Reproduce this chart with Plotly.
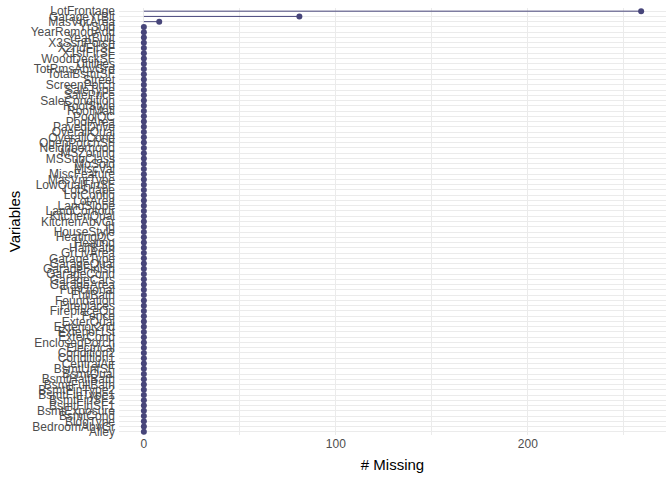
import plotly.graph_objects as go

# Variables ordered bottom -> top (ascending missing count, ties alphabetical)
variables = [
    "Alley", "BedroomAbvGr", "BldgType", "BsmtCond", "BsmtExposure", "BsmtFinSF1",
    "BsmtFinSF2", "BsmtFinType1", "BsmtFinType2", "BsmtFullBath", "BsmtHalfBath",
    "BsmtQual", "BsmtUnfSF", "CentralAir", "Condition1", "Condition2", "Electrical",
    "EnclosedPorch", "ExterCond", "Exterior1st", "Exterior2nd", "ExterQual", "Fence",
    "FireplaceQu", "Fireplaces", "Foundation", "FullBath", "Functional", "GarageArea",
    "GarageCars", "GarageCond", "GarageFinish", "GarageQual", "GarageType", "GrLivArea",
    "HalfBath", "Heating", "HeatingQC", "HouseStyle", "Id", "KitchenAbvGr", "KitchenQual",
    "LandContour", "LandSlope", "LotArea", "LotConfig", "LotShape", "LowQualFinSF",
    "MasVnrType", "MiscFeature", "MiscVal", "MoSold", "MSSubClass", "MSZoning",
    "Neighborhood", "OpenPorchSF", "OverallCond", "OverallQual", "PavedDrive", "PoolArea",
    "PoolQC", "RoofMatl", "RoofStyle", "SaleCondition", "SalePrice", "SaleType",
    "ScreenPorch", "Street", "TotalBsmtSF", "TotRmsAbvGrd", "Utilities", "WoodDeckSF",
    "X1stFlrSF", "X2ndFlrSF", "X3SsnPorch", "YearBuilt", "YearRemodAdd", "YrSold",
    "MasVnrArea", "GarageYrBlt", "LotFrontage",
]
missing = [0] * 78 + [8, 81, 259]

x_ticks = [0, 100, 200]

color = "#47457A"

seg_x, seg_y = [], []
for v, m in zip(variables, missing):
    seg_x += [0, m, None]
    seg_y += [v, v, None]

fig = go.Figure()
fig.add_trace(go.Scatter(x=seg_x, y=seg_y, mode="lines",
                         line=dict(color=color, width=1), hoverinfo="skip",
                         showlegend=False))
fig.add_trace(go.Scatter(x=missing, y=variables, mode="markers",
                         marker=dict(color=color, size=6), showlegend=False))

xmax = max(missing)
pad = 0.05 * xmax
fig.update_layout(
    width=672, height=480,
    margin=dict(l=119, r=6, t=8, b=45),
    paper_bgcolor="white", plot_bgcolor="white",
    font=dict(family="Liberation Sans, Arial, sans-serif", size=12, color="#4D4D4D"),
    xaxis=dict(
        range=[-pad, xmax + pad], tickvals=x_ticks, ticks="", showline=False,
        zeroline=False, showgrid=True, gridcolor="#EBEBEB", gridwidth=1,
        minor=dict(tickvals=[50, 150, 250], showgrid=True, gridcolor="#EBEBEB", gridwidth=0.5),
        tickfont=dict(size=12, color="#4D4D4D"),
        title=dict(text="# Missing", font=dict(size=15, color="black"), standoff=9),
        automargin=False,
    ),
    yaxis=dict(
        type="category", categoryorder="array", categoryarray=variables,
        range=[-0.6, len(variables) - 0.4], ticks="", showline=False, zeroline=False,
        showgrid=True, gridcolor="#EBEBEB", gridwidth=1,
        tickmode="array", tickvals=variables, ticktext=variables,
        tickfont=dict(size=12, color="#4D4D4D"), ticklabelstandoff=3,
        title=dict(text="Variables", font=dict(size=15, color="black"), standoff=6),
        automargin=False,
    ),
)

fig.write_html("out.html", config={"displayModeBar": False},
               post_script="document.body.style.margin='0';")
